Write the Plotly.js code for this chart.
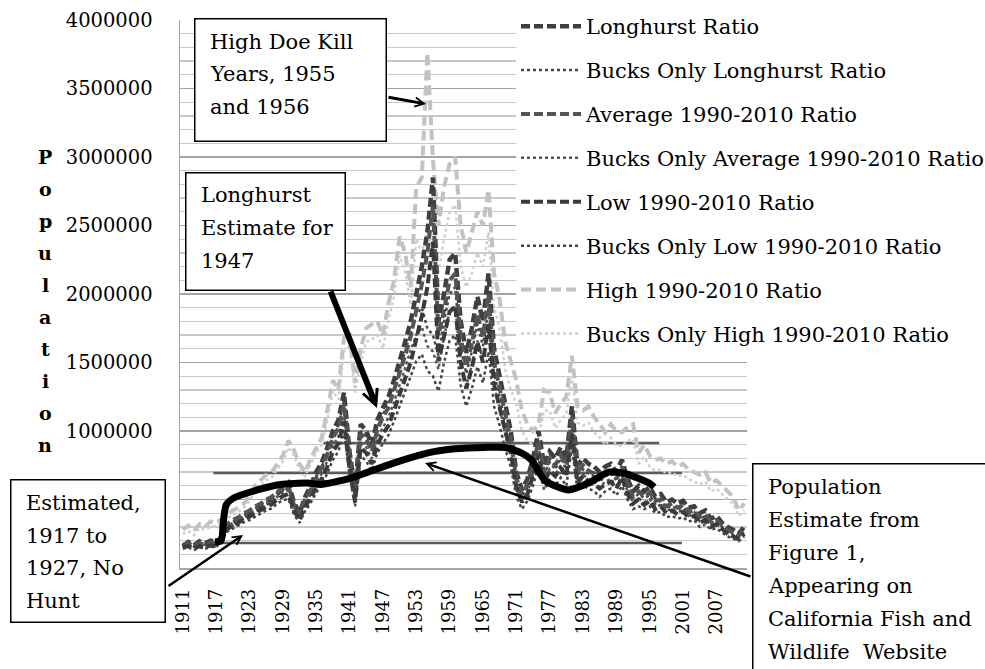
<!DOCTYPE html>
<html>
<head>
<meta charset="utf-8">
<script src="https://cdn.plot.ly/plotly-3.0.1.min.js"></script>
<style>
html,body{margin:0;padding:0;background:#fff;}
#chart{width:985px;height:669px;}
</style>
</head>
<body>
<div id="chart"></div>
<script>
const years = [
1911,1912,1913,1914,1915,1916,1917,1918,1919,1920,
1921,1922,1923,1924,1925,1926,1927,1928,1929,1930,
1931,1932,1933,1934,1935,1936,1937,1938,1939,1940,
1941,1942,1943,1944,1945,1946,1947,1948,1949,1950,
1951,1952,1953,1954,1955,1956,1957,1958,1959,1960,
1961,1962,1963,1964,1965,1966,1967,1968,1969,1970,
1971,1972,1973,1974,1975,1976,1977,1978,1979,1980,
1981,1982,1983,1984,1985,1986,1987,1988,1989,1990,
1991,1992,1993,1994,1995,1996,1997,1998,1999,2000,
2001,2002,2003,2004,2005,2006,2007,2008,2009,2010,
2011,2012];

const xTickYears = [1911,1917,1923,1929,1935,1941,1947,1953,1959,1965,1971,1977,1983,1989,1995,2001,2007];
const yTickVals = [0,500000,1000000,1500000,2000000,2500000,3000000,3500000,4000000];
// 0 and 500000 labels are hidden behind the "Estimated" box in the reference
const yTickText = ['','','1000000','1500000','2000000','2500000','3000000','3500000','4000000'];

const longhurst = [
160000,190000,165000,195000,180000,200000,190000,220000,300000,330000,
350000,380000,400000,430000,450000,480000,500000,540000,570000,620000,
480000,400000,520000,600000,700000,770000,880000,1000000,1080000,1280000,
850000,570000,1050000,1000000,900000,1080000,1170000,1250000,1370000,1500000,
1650000,1800000,2000000,2200000,2450000,2850000,1800000,2000000,2250000,2300000,
1800000,1570000,1750000,1980000,1800000,2150000,1600000,1400000,1200000,1000000,
700000,570000,650000,800000,1000000,750000,850000,800000,880000,800000,
1180000,750000,800000,760000,740000,700000,740000,760000,700000,790000,
650000,560000,600000,560000,590000,520000,540000,480000,500000,470000,
490000,440000,450000,400000,420000,360000,380000,330000,300000,280000,
250000,300000];

const bucksLonghurst = [
150000,175000,155000,185000,170000,185000,180000,210000,280000,310000,
330000,360000,380000,410000,430000,460000,480000,520000,550000,590000,
460000,380000,500000,570000,670000,740000,840000,960000,1040000,1220000,
820000,550000,1000000,960000,870000,1030000,1120000,1200000,1310000,1440000,
1580000,1720000,1850000,1900000,1750000,1700000,1550000,1800000,2000000,2050000,
1600000,1420000,1580000,1780000,1620000,1900000,1420000,1250000,1050000,880000,
620000,520000,590000,720000,880000,680000,770000,720000,800000,720000,
1050000,680000,720000,690000,670000,630000,670000,690000,640000,710000,
590000,510000,540000,510000,530000,470000,490000,440000,450000,430000,
440000,400000,410000,360000,380000,330000,340000,300000,270000,250000,
230000,270000];

const average = [
170000,180000,160000,180000,170000,185000,180000,240000,320000,350000,
370000,400000,420000,450000,470000,500000,520000,560000,590000,600000,
460000,390000,500000,570000,660000,730000,830000,950000,1020000,1200000,
800000,540000,980000,940000,850000,1010000,1100000,1170000,1290000,1410000,
1550000,1690000,1880000,2070000,2300000,2650000,1700000,1880000,2100000,2150000,
1680000,1470000,1640000,1850000,1690000,2000000,1500000,1310000,1120000,940000,
660000,540000,610000,750000,930000,700000,800000,750000,820000,750000,
1100000,700000,750000,710000,690000,650000,690000,710000,650000,740000,
610000,520000,560000,520000,550000,490000,500000,450000,470000,440000,
460000,410000,420000,370000,390000,340000,350000,310000,280000,260000,
235000,280000];

const bucksAverage = [
160000,170000,150000,170000,160000,175000,170000,225000,300000,330000,
350000,375000,395000,420000,440000,470000,490000,525000,555000,565000,
430000,370000,470000,535000,620000,690000,780000,890000,960000,1130000,
760000,510000,920000,880000,800000,950000,1030000,1100000,1210000,1330000,
1460000,1590000,1700000,1760000,1620000,1580000,1450000,1690000,1870000,1920000,
1500000,1330000,1480000,1660000,1520000,1780000,1330000,1170000,980000,830000,
580000,490000,550000,680000,830000,640000,720000,680000,750000,680000,
990000,640000,680000,650000,630000,590000,630000,650000,600000,670000,
560000,480000,510000,480000,500000,450000,460000,420000,430000,410000,
420000,380000,390000,340000,360000,310000,320000,290000,260000,240000,
220000,260000];

const low = [
150000,160000,140000,160000,150000,165000,160000,210000,285000,310000,
330000,355000,375000,400000,420000,445000,465000,500000,525000,540000,
420000,350000,445000,510000,590000,650000,740000,850000,910000,1070000,
720000,480000,880000,840000,760000,900000,980000,1040000,1150000,1260000,
1380000,1500000,1670000,1840000,2050000,2380000,1510000,1680000,1870000,1910000,
1500000,1310000,1460000,1650000,1500000,1780000,1340000,1170000,1000000,840000,
590000,480000,540000,670000,830000,620000,710000,670000,730000,670000,
980000,620000,670000,630000,610000,580000,610000,630000,580000,660000,
540000,470000,500000,460000,490000,430000,450000,400000,420000,390000,
410000,370000,380000,330000,350000,300000,320000,280000,250000,230000,
210000,250000];

const bucksLow = [
140000,150000,130000,150000,140000,155000,150000,200000,265000,290000,
310000,335000,350000,375000,395000,420000,435000,470000,495000,505000,
390000,330000,415000,475000,550000,610000,690000,790000,850000,1000000,
680000,450000,820000,780000,710000,840000,910000,970000,1070000,1180000,
1290000,1400000,1510000,1560000,1440000,1400000,1290000,1500000,1660000,1700000,
1330000,1180000,1310000,1470000,1350000,1580000,1180000,1040000,870000,740000,
520000,430000,490000,600000,740000,570000,640000,600000,660000,600000,
880000,570000,600000,580000,560000,520000,560000,580000,530000,600000,
500000,430000,450000,430000,450000,400000,410000,370000,380000,360000,
370000,340000,350000,300000,320000,280000,290000,260000,230000,215000,
195000,230000];

const high = [
280000,310000,270000,320000,300000,340000,330000,360000,390000,420000,
440000,470000,530000,600000,640000,680000,700000,760000,820000,930000,
860000,760000,700000,800000,880000,950000,1150000,1370000,1300000,1680000,
1720000,1350000,1600000,1750000,1780000,1800000,1700000,1930000,2100000,2420000,
2300000,2050000,2780000,2850000,3760000,2980000,2500000,2780000,2950000,3000000,
2500000,2300000,2450000,2600000,2500000,2760000,2150000,1960000,1650000,1500000,
1370000,1150000,1050000,1000000,1050000,1300000,1280000,1130000,1200000,1250000,
1550000,1180000,1150000,1180000,1100000,1050000,990000,1050000,1000000,990000,
1030000,1050000,840000,900000,820000,790000,800000,760000,780000,740000,
760000,720000,700000,680000,700000,620000,640000,600000,560000,520000,
420000,470000];

const bucksHigh = [
250000,270000,240000,290000,280000,300000,310000,330000,360000,390000,
410000,440000,490000,560000,600000,640000,660000,720000,780000,880000,
820000,720000,670000,760000,840000,900000,1080000,1290000,1230000,1580000,
1620000,1280000,1500000,1650000,1670000,1700000,1600000,1810000,1980000,2280000,
2160000,1920000,2400000,2300000,2450000,2300000,2150000,2400000,2600000,2650000,
2200000,2050000,2150000,2300000,2200000,2450000,1900000,1750000,1450000,1300000,
1200000,1000000,930000,900000,950000,1150000,1150000,1020000,1080000,1130000,
1400000,1060000,1040000,1060000,990000,950000,900000,950000,900000,890000,
930000,940000,760000,810000,740000,710000,720000,690000,700000,670000,
680000,650000,630000,610000,630000,560000,580000,540000,500000,470000,
380000,420000];

// "Population Estimate from Figure 1" (pasted curve) and that figure's grid lines
const fig1CurveYear = [1916.8,1917.9,1918.3,1918.8,1920.1,1924.4,1928.6,1933.4,1935.8,1940.7,1944.3,1950,1955.1,1960,1965.3,1969,1971.9,1973.7,1976.1,1978.6,1980.4,1984,1987.6,1990.5,1994.9,1995.8];
const fig1CurveVal = [190000,200000,340000,460000,510000,570000,610000,620000,610000,650000,700000,780000,840000,870000,880000,880000,840000,790000,640000,590000,570000,620000,700000,690000,620000,590000];
const fig1GridVal = [912000, 694000, 182000];
const fig1GridStart = [1936.3, 1916.5, 1916.5];
const fig1GridEnd = [1996.7, 2000.8, 2000.8];

const seriesNames = [
 'Longhurst Ratio','Bucks Only Longhurst Ratio','Average 1990-2010 Ratio',
 'Bucks Only Average 1990-2010 Ratio','Low 1990-2010 Ratio','Bucks Only Low 1990-2010 Ratio',
 'High 1990-2010 Ratio','Bucks Only High 1990-2010 Ratio'];
const seriesData = [longhurst,bucksLonghurst,average,bucksAverage,low,bucksLow,high,bucksHigh];
const seriesStyle = [
 {color:'#3f3f3f', dash:'9px,4px', width:4.5},
 {color:'#474747', dash:'dot', width:2.5},
 {color:'#545454', dash:'9px,4px', width:4},
 {color:'#555555', dash:'dot', width:2.5},
 {color:'#3a3a3a', dash:'9px,4px', width:4},
 {color:'#444444', dash:'dot', width:2.5},
 {color:'#c2c2c2', dash:'10px,5px', width:4},
 {color:'#cfcfcf', dash:'dot', width:2.5}
];
const drawOrder = [6,7,0,1,2,3,4,5];

const FONT = 'DejaVu Serif';
const L = 180, R = 747, T = 20, B = 568;
const PX = p => (p - L) / (R - L);
const PY = p => (B - p) / (B - T);

const traces = [];
for (let k = 0; k < fig1GridVal.length; k++) {
  traces.push({type:'scatter', mode:'lines', x:[fig1GridStart[k], fig1GridEnd[k]],
    y:[fig1GridVal[k], fig1GridVal[k]], line:{color:'#5c5c5c', width:2.5},
    showlegend:false, hoverinfo:'skip'});
}
drawOrder.forEach(i => {
  traces.push({type:'scatter', mode:'lines', x:years, y:seriesData[i], name:seriesNames[i],
    line:Object.assign({}, seriesStyle[i]), legendgroup:'g'+i, legendrank:i+1});
});
traces.push({type:'scatter', mode:'lines', x:fig1CurveYear, y:fig1CurveVal,
  line:{color:'#000', width:7, shape:'spline', smoothing:0.6}, showlegend:false, hoverinfo:'skip'});

const annotations = [];
// text box: white rectangle with border, then its lines of text
function box(lines, x0, x1, y0, y1, textX, firstY, step) {
  annotations.push({xref:'paper', yref:'paper', x:PX((x0+x1)/2), y:PY((y0+y1)/2), xanchor:'center', yanchor:'middle',
    text:' ', showarrow:false, bgcolor:'#fff', bordercolor:'#000', borderwidth:1.5, borderpad:0,
    width:(x1-x0)-3, height:(y1-y0)-3, font:{family:FONT, size:10}});
  lines.forEach((t, i) => {
    annotations.push({xref:'paper', yref:'paper', x:PX(textX), y:PY(firstY + i*step), xanchor:'left', yanchor:'middle',
      text:t, showarrow:false, font:{family:FONT, size:21, color:'#000'}});
  });
}
function arrow(tx, ty, hx, hy, w, size) {
  annotations.push({xref:'paper', yref:'paper', x:PX(hx), y:PY(hy), ax:tx-hx, ay:ty-hy, text:'',
    showarrow:true, arrowhead:5, arrowwidth:w, arrowsize:size, arrowcolor:'#000', standoff:0});
}
box(['High Doe Kill','Years, 1955','and 1956'], 194, 387, 18, 142, 208, 42, 32.5);
box(['Longhurst','Estimate for','1947'], 185, 346, 172, 291, 199, 195, 33);
box(['Estimated,','1917 to','1927, No','Hunt'], 10, 166, 479, 623, 24, 503, 32.5);
box(['Population','Estimate from','Figure 1,','Appearing on','California Fish and','Wildlife  Website'], 752, 1012, 463, 700, 766, 487, 33);
arrow(387, 97, 426, 104, 3, 0.6);
arrow(330, 290, 377, 408, 6, 0.5);
arrow(167, 587, 243, 535, 2.5, 0.7);
arrow(752, 577, 425, 463, 2.5, 0.7);

const titleLetters = 'Population'.split('');
titleLetters.forEach((ch, i) => {
  annotations.push({xref:'paper', yref:'paper', x:PX(45), y:PY(157 + i*32), xanchor:'center', yanchor:'middle',
    text:'<b>'+ch+'</b>', showarrow:false, font:{family:FONT, size:19, color:'#000'}});
});

const layout = {
  width:985, height:669,
  margin:{l:L, r:985-R, t:T, b:669-B, pad:0, autoexpand:false},
  paper_bgcolor:'#fff', plot_bgcolor:'#fff',
  font:{family:FONT, color:'#000'},
  showlegend:true,
  legend:{x:PX(516), y:PY(6), xanchor:'left', yanchor:'top', bgcolor:'#fff', borderwidth:0,
    font:{family:FONT, size:21, color:'#000'}, tracegroupgap:13.6, itemwidth:60, maxheight:1},
  xaxis:{range:[1910.5, 2012.5], tickmode:'array', tickvals:xTickYears, ticktext:xTickYears.map(String),
    tickangle:-90, tickfont:{family:FONT, size:18, color:'#000'}, showgrid:false, zeroline:false,
    showline:true, linecolor:'#a6a6a6', linewidth:1.5, ticks:'', ticklabelstandoff:12, fixedrange:true},
  yaxis:{range:[0, 4000000], tickmode:'array', tickvals:yTickVals, ticktext:yTickText,
    tickfont:{family:FONT, size:19.5, color:'#000'}, showgrid:true, gridcolor:'#a3a3a3', gridwidth:1.3,
    minor:{dtick:100000, showgrid:true, gridcolor:'#c9c9c9', gridwidth:1.3},
    zeroline:false, showline:true, linecolor:'#a6a6a6', linewidth:1.5, ticks:'', ticklabelstandoff:22, fixedrange:true},
  annotations:annotations,
  hovermode:false
};
Plotly.newPlot('chart', traces, layout, {displayModeBar:false, staticPlot:true});
</script>
</body>
</html>
